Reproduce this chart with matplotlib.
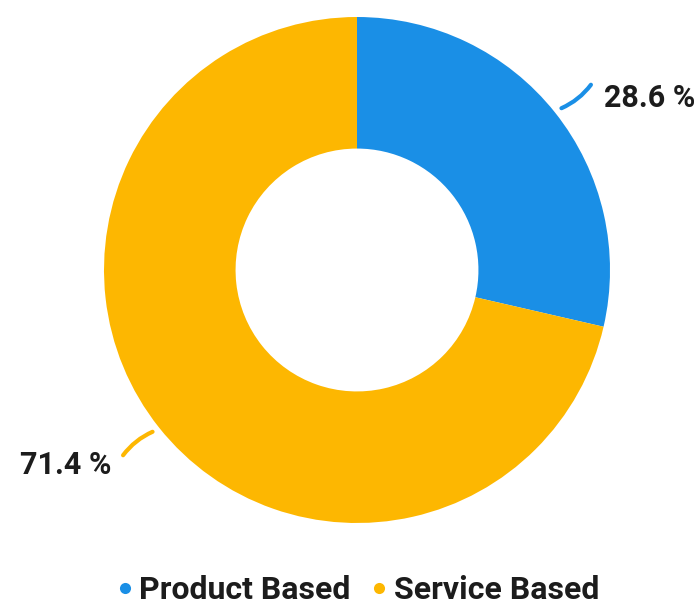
import numpy as np
import matplotlib.pyplot as plt
from matplotlib.lines import Line2D

# data
labels = ['Product Based', 'Service Based']
shares = [28.6, 71.4]
colors = ['#1a8fe6', '#fdb701']

plt.rcParams['font.family'] = ['Roboto', 'DejaVu Sans']

fig = plt.figure(figsize=(7, 6.09), dpi=100)
ax = fig.add_axes([104 / 700, 1 - 523 / 609, 506 / 700, 506 / 609])

wedges, _ = ax.pie(shares, colors=colors, startangle=90, counterclock=False,
                   radius=1, wedgeprops=dict(width=0.52, edgecolor='none'))
ax.set_xlim(-1, 1)
ax.set_ylim(-1, 1)
ax.axis('off')

# leader lines and percentage labels
offsets = [(0.045, -0.06, 'left'), (-0.04, -0.03, 'right')]
for w, s, c, (ox, oy, ha) in zip(wedges, shares, colors, offsets):
    ang = np.deg2rad((w.theta1 + w.theta2) / 2)
    x0, y0 = 1.02 * np.cos(ang), 1.02 * np.sin(ang)
    x1, y1 = 1.19 * np.cos(ang), 1.19 * np.sin(ang)
    ax.annotate('', xy=(x1, y1), xytext=(x0, y0), annotation_clip=False,
                arrowprops=dict(arrowstyle='-', color=c, lw=3,
                                connectionstyle='arc3,rad=0.15'))
    ax.text(x1 + ox, y1 + oy, f'{s} %', ha=ha, va='center', fontsize=22,
            fontweight='bold', color='#1c1c1c', clip_on=False)

handles = [Line2D([], [], marker='o', linestyle='none', markersize=8,
                  markerfacecolor=c, markeredgecolor='none') for c in colors]
fig.legend(handles, labels, loc='center', bbox_to_anchor=(0.51, 1 - 590 / 609),
           ncol=2, frameon=False, handlelength=0.6, handletextpad=0.15,
           columnspacing=0.6, prop=dict(size=23, weight='bold'),
           labelcolor='#1c1c1c')

fig.savefig('out.png', dpi=100)
